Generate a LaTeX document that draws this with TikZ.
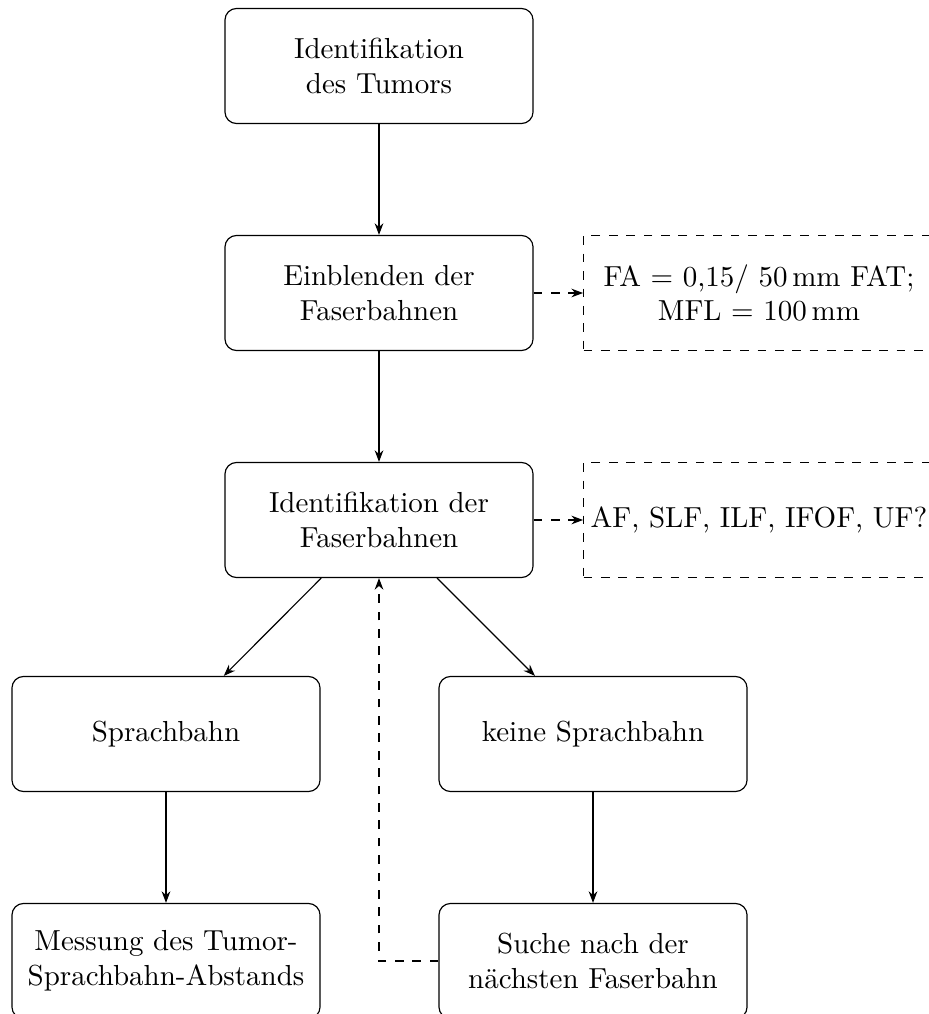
\documentclass[tikz,border=0pt]{standalone}
\usetikzlibrary{arrows.meta}
\begin{document}
\begin{tikzpicture}[x=0.345pt,y=-0.345pt,
  box/.style={draw, rounded corners, align=center, text width=3.5cm,
    minimum width=106.3pt, minimum height=39.7pt},
  info/.style={draw, dashed, align=center, inner xsep=1pt,
    minimum width=121pt, minimum height=39.7pt},
  arr/.style={-{Stealth[length=4pt,width=3pt]}},
  darr/.style={dashed,-{Stealth[length=4pt,width=3pt]}}]
\useasboundingbox (0,0) rectangle (928,1014);
\node[box] (b1) at (379,66) {Identifikation\\des Tumors};
\node[box] (b2) at (379,293) {Einblenden der\\Faserbahnen};
\node[box] (b3) at (379,520) {Identifikation der\\Faserbahnen};
\node[box] (b4) at (166,734) {Sprachbahn};
\node[box] (b5) at (593,734) {keine Sprachbahn};
\node[box] (b6) at (166,961) {Messung des Tumor-\\Sprachbahn-Abstands};
\node[box] (b7) at (593,961) {Suche nach der\\nächsten Faserbahn};
\node[info, anchor=west] (i1) at (583,293) {FA $=$ 0,15/ 50\,mm FAT;\\MFL $=$ 100\,mm};
\node[info, anchor=west] (i2) at (583,520) {AF, SLF, ILF, IFOF, UF?};
\draw[arr] (b1) -- (b2);
\draw[arr] (b2) -- (b3);
\draw[darr] (b2) -- (i1);
\draw[darr] (b3) -- (i2);
\draw[arr] (b3) -- (b4);
\draw[arr] (b3) -- (b5);
\draw[arr] (b4) -- (b6);
\draw[arr] (b5) -- (b7);
\draw[darr] (b7.west) -| (b3.south);
\end{tikzpicture}
\end{document}
